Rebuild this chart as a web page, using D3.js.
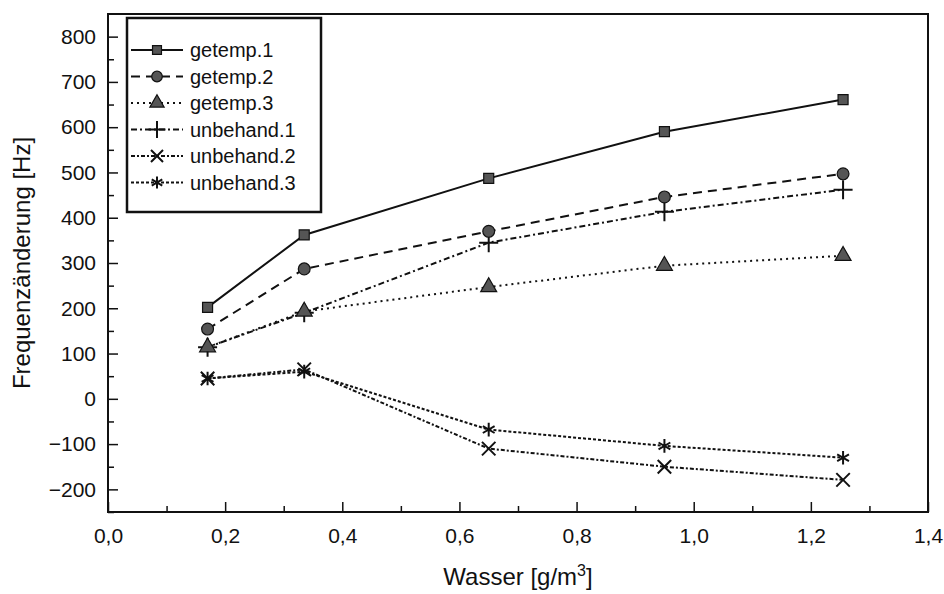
<!DOCTYPE html>
<html>
<head>
<meta charset="utf-8">
<script src="https://cdn.jsdelivr.net/npm/d3@7"></script>
<style>
  body { margin: 0; background: #fff; }
  text { font-family: "Liberation Sans", Arial, sans-serif; fill: #111; }
</style>
</head>
<body>
<div class="chart"></div>
<script>
// values
const wasser = [0.17, 0.335, 0.65, 0.95, 1.255]
const getemp1 = [202, 362, 487, 590, 661]
const getemp2 = [154, 287, 370, 446, 497]
const getemp3 = [114, 193, 247, 294, 316]
const unbehand1 = [114, 190, 345, 413, 462]
const unbehand2 = [45, 65, -110, -150, -179]
const unbehand3 = [45, 60, -68, -104, -130]
const seriesNames = ['getemp.1', 'getemp.2', 'getemp.3', 'unbehand.1', 'unbehand.2', 'unbehand.3']
const xTicks = [0, 0.2, 0.4, 0.6, 0.8, 1.0, 1.2, 1.4]
const yTicks = [-200, -100, 0, 100, 200, 300, 400, 500, 600, 700, 800]

const series = [
  { name: seriesNames[0], values: getemp1, dash: null, symbol: d3.symbolSquare, size: 100, fill: true },
  { name: seriesNames[1], values: getemp2, dash: "9,6", symbol: d3.symbolCircle, size: 110, fill: true },
  { name: seriesNames[2], values: getemp3, dash: "2,4", symbol: d3.symbolTriangle, size: 110, fill: true },
  { name: seriesNames[3], values: unbehand1, dash: "6,3,2,3", symbol: d3.symbolPlus, size: 120, fill: false },
  { name: seriesNames[4], values: unbehand2, dash: "4,2,2,2", symbol: d3.symbolTimes, size: 120, fill: false },
  { name: seriesNames[5], values: unbehand3, dash: "3,2", symbol: d3.symbolAsterisk, size: 130, fill: false }
]

const width = 944, height = 594
const margin = { top: 14, right: 16, bottom: 82, left: 108 }

const svg = d3.select(".chart").append("svg")
  .attr("width", width)
  .attr("height", height)

const x = d3.scaleLinear().domain([0, 1.4]).range([margin.left, width - margin.right])
const y = d3.scaleLinear().domain([-250, 850]).range([height - margin.bottom, margin.top])

// minor ticks first, then major
const xMinor = d3.range(0.1, 1.4, 0.2)
const yMinor = d3.range(-250, 850, 100)

svg.append("g")
  .attr("transform", `translate(0,${y(-250)})`)
  .call(d3.axisBottom(x).tickValues(xMinor).tickSize(-6).tickFormat(""))
  .call(g => g.select(".domain").remove())
svg.append("g")
  .attr("transform", `translate(0,${y(-250)})`)
  .call(d3.axisBottom(x).tickValues(xTicks).tickSize(-10).tickPadding(16)
    .tickFormat(d => d3.format(".1f")(d).replace(".", ",")))
  .call(g => g.select(".domain").remove())
  .call(g => g.selectAll("text").attr("font-size", 21).attr("fill", "#111"))

svg.append("g")
  .attr("transform", `translate(${x(0)},0)`)
  .call(d3.axisLeft(y).tickValues(yMinor).tickSize(-6).tickFormat(""))
  .call(g => g.select(".domain").remove())
svg.append("g")
  .attr("transform", `translate(${x(0)},0)`)
  .call(d3.axisLeft(y).tickValues(yTicks).tickSize(-10).tickPadding(12))
  .call(g => g.select(".domain").remove())
  .call(g => g.selectAll("text").attr("font-size", 21).attr("fill", "#111"))

svg.selectAll(".tick line").attr("stroke", "#111").attr("stroke-width", 1.5)

// frame
svg.append("rect")
  .attr("x", x(0)).attr("y", y(850))
  .attr("width", x(1.4) - x(0)).attr("height", y(-250) - y(850))
  .attr("fill", "none").attr("stroke", "#111").attr("stroke-width", 2)

// axis titles
svg.append("text")
  .attr("transform", `translate(30,${(y(850) + y(-250)) / 2}) rotate(-90)`)
  .attr("text-anchor", "middle")
  .attr("font-size", 24)
  .text("Frequenzänderung [Hz]")

const xt = svg.append("text")
  .attr("x", (x(0) + x(1.4)) / 2)
  .attr("y", 585)
  .attr("text-anchor", "middle")
  .attr("font-size", 24)
xt.append("tspan").text("Wasser [g/m")
xt.append("tspan").attr("dy", -9).attr("font-size", 16).text("3")
xt.append("tspan").attr("dy", 9).text("]")

// lines
const line = d3.line()
  .x((d, i) => x(wasser[i]))
  .y(d => y(d))

series.forEach(s => {
  svg.append("path")
    .datum(s.values)
    .attr("d", line)
    .attr("fill", "none")
    .attr("stroke", "#111")
    .attr("stroke-width", 2)
    .attr("stroke-dasharray", s.dash)
})

// markers
series.slice().reverse().forEach(s => {
  svg.append("g").selectAll("path")
    .data(s.values)
    .join("path")
      .attr("transform", (d, i) => `translate(${x(wasser[i])},${y(d)})`)
      .attr("d", d3.symbol(s.symbol, s.size))
      .attr("fill", s.fill ? "#555" : "none")
      .attr("stroke", "#111")
      .attr("stroke-width", s.fill ? 1.2 : 2)
})

// legend
const legend = svg.append("g").attr("transform", "translate(127,18)")
legend.append("rect")
  .attr("width", 194).attr("height", 194)
  .attr("fill", "#fff").attr("stroke", "#111").attr("stroke-width", 2.5)

series.forEach((s, i) => {
  const row = legend.append("g").attr("transform", `translate(0,${32 + i * 26.5})`)
  row.append("line")
    .attr("x1", 4).attr("x2", 56)
    .attr("stroke", "#111").attr("stroke-width", 2)
    .attr("stroke-dasharray", s.dash)
  row.append("path")
    .attr("transform", "translate(30,0)")
    .attr("d", d3.symbol(s.symbol, s.size * 0.8))
    .attr("fill", s.fill ? "#555" : "none")
    .attr("stroke", "#111")
    .attr("stroke-width", s.fill ? 1.2 : 2)
  row.append("text")
    .attr("x", 63).attr("dy", "0.35em")
    .attr("font-size", 20)
    .text(s.name)
})
</script>
</body>
</html>
